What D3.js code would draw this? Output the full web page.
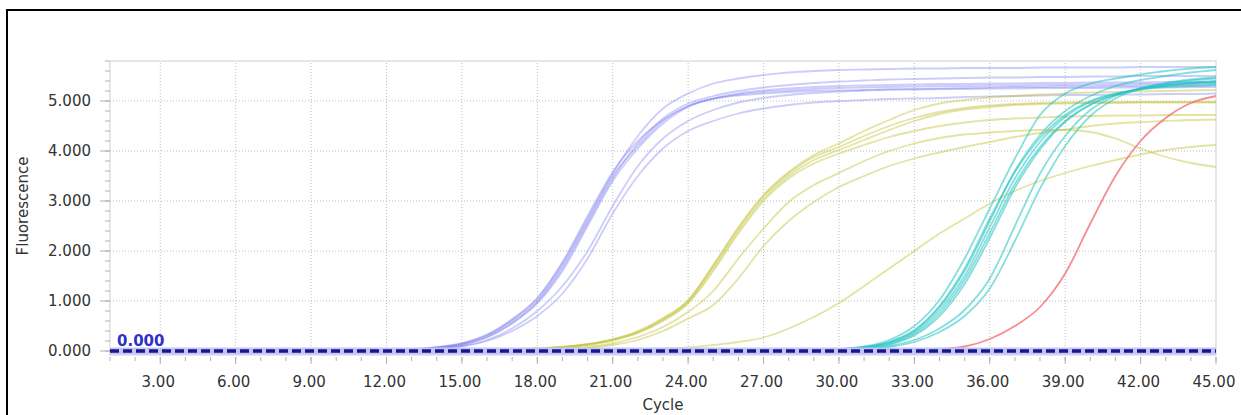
<!DOCTYPE html>
<html>
<head>
<meta charset="utf-8">
<script src="https://cdn.jsdelivr.net/npm/d3@7"></script>
<style>
  body { margin: 0; background: #fff; }
  svg { display: block; }
  .tick-label { font-family: "DejaVu Sans", sans-serif; font-size: 15px; fill: #333; }
</style>
</head>
<body>
<div class="chart-container"></div>
<script>
var w = 1241;
var h = 415;

// cycle numbers on the x axis
var cycles = [1,2,3,4,5,6,7,8,9,10,11,12,13,14,15,16,17,18,19,20,21,22,23,24,25,26,27,28,29,30,31,32,33,34,35,36,37,38,39,40,41,42,43,44,45];
var xTicks = [3,6,9,12,15,18,21,24,27,30,33,36,39,42,45];
var yTicks = [0,1,2,3,4,5];
var threshold = 0;

// fluorescence (x1000) per cycle
var blueCurves = [
  [0,0,0,0,0,0,0,0,0,0,0, 0.01,0.03,0.07,0.15,0.32,0.62,1.05,1.75,2.65,3.55,4.3,4.85,5.15, 5.35,5.45,5.52,5.57,5.6,5.62,5.63,5.64,5.65,5.65,5.66,5.66,5.66,5.67,5.67,5.67,5.67,5.68,5.68,5.68,5.68],
  [0,0,0,0,0,0,0,0,0,0,0, 0.01,0.03,0.06,0.13,0.28,0.56,0.98,1.65,2.55,3.45,4.15,4.65,4.95, 5.1,5.2,5.27,5.32,5.36,5.39,5.41,5.43,5.44,5.45,5.46,5.47,5.47,5.48,5.48,5.49,5.49,5.5,5.5,5.5,5.5],
  [0,0,0,0,0,0,0,0,0,0,0, 0.01,0.03,0.07,0.14,0.3,0.6,1.0,1.7,2.6,3.5,4.1,4.6,4.9, 5.05,5.13,5.18,5.21,5.24,5.26,5.27,5.28,5.29,5.3,5.3,5.31,5.31,5.32,5.32,5.33,5.33,5.34,5.34,5.35,5.35],
  [0,0,0,0,0,0,0,0,0,0,0, 0.01,0.02,0.06,0.12,0.27,0.55,0.95,1.6,2.5,3.4,4.05,4.55,4.88, 5.05,5.15,5.21,5.25,5.28,5.3,5.31,5.32,5.33,5.34,5.34,5.35,5.35,5.36,5.36,5.37,5.37,5.37,5.38,5.38,5.38],
  [0,0,0,0,0,0,0,0,0,0,0, 0.01,0.03,0.08,0.16,0.33,0.64,1.06,1.78,2.7,3.58,4.2,4.62,4.9, 5.04,5.11,5.15,5.18,5.2,5.21,5.22,5.23,5.23,5.24,5.24,5.25,5.25,5.26,5.26,5.26,5.27,5.27,5.27,5.28,5.28],
  [0,0,0,0,0,0,0,0,0,0,0, 0.01,0.02,0.05,0.1,0.22,0.45,0.8,1.3,2.0,2.9,3.7,4.25,4.6, 4.82,4.97,5.06,5.12,5.16,5.19,5.21,5.23,5.24,5.25,5.26,5.27,5.28,5.28,5.29,5.29,5.3,5.3,5.31,5.31,5.32],
  [0,0,0,0,0,0,0,0,0,0,0, 0.01,0.02,0.04,0.09,0.2,0.4,0.7,1.15,1.85,2.75,3.5,4.05,4.4, 4.6,4.75,4.85,4.92,4.97,5.0,5.02,5.04,5.05,5.06,5.08,5.09,5.1,5.11,5.12,5.12,5.13,5.13,5.14,5.14,5.15]
];

var yellowCurves = [
  [0,0,0,0,0,0,0,0,0,0,0,0,0, 0.01,0.01,0.02,0.03,0.05,0.08,0.14,0.24,0.4,0.66,1.02, 1.72,2.48,3.12,3.58,3.92,4.15,4.4,4.62,4.82,4.95,5.02,5.07,5.1,5.13,5.15,5.17,5.18,5.19,5.2,5.21,5.22],
  [0,0,0,0,0,0,0,0,0,0,0,0,0, 0.01,0.01,0.02,0.03,0.05,0.08,0.13,0.23,0.38,0.64,1.0, 1.7,2.45,3.1,3.55,3.88,4.08,4.3,4.5,4.66,4.78,4.86,4.91,4.94,4.96,4.97,4.97,4.98,4.98,4.98,4.98,4.98],
  [0,0,0,0,0,0,0,0,0,0,0,0,0, 0.01,0.01,0.02,0.03,0.05,0.08,0.13,0.22,0.37,0.62,0.98, 1.65,2.4,3.05,3.5,3.82,4.02,4.22,4.42,4.6,4.74,4.83,4.88,4.92,4.94,4.95,4.96,4.96,4.97,4.97,4.97,4.97],
  [0,0,0,0,0,0,0,0,0,0,0,0,0, 0.01,0.01,0.02,0.03,0.04,0.07,0.12,0.21,0.36,0.6,0.95, 1.6,2.35,3.0,3.45,3.75,3.95,4.12,4.28,4.4,4.5,4.57,4.62,4.65,4.67,4.69,4.7,4.71,4.71,4.72,4.72,4.72],
  [0,0,0,0,0,0,0,0,0,0,0,0,0, 0,0,0.01,0.01,0.02,0.04,0.08,0.15,0.28,0.48,0.78, 1.2,1.85,2.45,2.98,3.32,3.56,3.8,4.0,4.15,4.26,4.33,4.37,4.4,4.42,4.42,4.38,4.25,4.05,3.88,3.76,3.68],
  [0,0,0,0,0,0,0,0,0,0,0,0,0, 0,0,0.01,0.01,0.02,0.03,0.06,0.12,0.22,0.4,0.65, 0.92,1.45,2.1,2.6,2.98,3.28,3.5,3.7,3.85,3.97,4.08,4.18,4.28,4.36,4.43,4.5,4.55,4.58,4.6,4.62,4.63],
  [0,0,0,0,0,0,0,0,0,0,0,0,0, 0,0,0,0,0,0,0.01,0.02,0.03,0.05,0.07, 0.12,0.18,0.27,0.45,0.68,0.96,1.3,1.65,2.0,2.35,2.65,2.95,3.2,3.4,3.56,3.7,3.82,3.93,4.02,4.08,4.12]
];

var cyanCurves = [
  [0,0,0,0,0,0,0,0,0,0,0,0,0,0,0,0,0,0,0,0,0,0,0,0,0,0,0, 0.01,0.02,0.04,0.09,0.22,0.5,1.02,1.85,2.85,3.85,4.72,5.15,5.35,5.45,5.53,5.6,5.65,5.68],
  [0,0,0,0,0,0,0,0,0,0,0,0,0,0,0,0,0,0,0,0,0,0,0,0,0,0,0, 0.01,0.01,0.03,0.08,0.18,0.4,0.88,1.6,2.6,3.6,4.32,4.8,5.1,5.3,5.42,5.5,5.57,5.62],
  [0,0,0,0,0,0,0,0,0,0,0,0,0,0,0,0,0,0,0,0,0,0,0,0,0,0,0, 0,0.01,0.03,0.07,0.16,0.37,0.82,1.5,2.48,3.45,4.18,4.68,4.98,5.14,5.24,5.3,5.34,5.36],
  [0,0,0,0,0,0,0,0,0,0,0,0,0,0,0,0,0,0,0,0,0,0,0,0,0,0,0, 0,0.01,0.03,0.06,0.14,0.34,0.76,1.42,2.36,3.34,4.08,4.6,4.93,5.12,5.24,5.31,5.36,5.39],
  [0,0,0,0,0,0,0,0,0,0,0,0,0,0,0,0,0,0,0,0,0,0,0,0,0,0,0, 0,0.01,0.02,0.05,0.13,0.31,0.7,1.34,2.26,3.26,4.03,4.58,4.92,5.12,5.24,5.32,5.37,5.4],
  [0,0,0,0,0,0,0,0,0,0,0,0,0,0,0,0,0,0,0,0,0,0,0,0,0,0,0, 0,0.01,0.03,0.07,0.18,0.42,0.9,1.65,2.65,3.58,4.26,4.72,5.0,5.15,5.23,5.28,5.3,5.32],
  [0,0,0,0,0,0,0,0,0,0,0,0,0,0,0,0,0,0,0,0,0,0,0,0,0,0,0, 0,0,0.01,0.04,0.1,0.22,0.45,0.82,1.45,2.5,3.55,4.3,4.82,5.1,5.26,5.35,5.41,5.45],
  [0,0,0,0,0,0,0,0,0,0,0,0,0,0,0,0,0,0,0,0,0,0,0,0,0,0,0, 0,0,0.01,0.03,0.08,0.18,0.38,0.7,1.25,2.2,3.25,4.1,4.7,5.05,5.25,5.36,5.43,5.47]
];

var redCurves = [
  [0,0,0,0,0,0,0,0,0,0,0,0,0,0,0,0,0,0,0,0,0,0,0,0,0,0,0,0,0,0,0, 0.01,0.02,0.04,0.09,0.24,0.5,0.88,1.55,2.55,3.5,4.2,4.66,4.96,5.1]
];

var margin = { left: 110, right: 25, top: 61, bottom: 60 };

var x = d3.scaleLinear().domain([1, 45]).range([margin.left, w - margin.right]);
var y = d3.scaleLinear().domain([-0.08, 5.8]).range([h - margin.bottom, margin.top]);

var svg = d3.select(".chart-container")
    .append("svg")
    .attr("width", w)
    .attr("height", h);

// outer frame
svg.append("rect")
    .attr("x", 7).attr("y", 10)
    .attr("width", w).attr("height", h)
    .attr("fill", "none")
    .attr("stroke", "#000")
    .attr("stroke-width", 2);

var x0 = x.range()[0], x1 = x.range()[1];
var y0 = y.range()[0], y1 = y.range()[1];

// dotted grid
svg.append("g").selectAll("line")
    .data(yTicks.filter(function (d) { return d > 0; }))
    .enter().append("line")
    .attr("x1", x0).attr("x2", x1)
    .attr("y1", function (d) { return y(d); })
    .attr("y2", function (d) { return y(d); })
    .attr("stroke", "#bdbdbd")
    .attr("stroke-dasharray", "1,2");

svg.append("g").selectAll("line")
    .data(xTicks.filter(function (d) { return d < 45; }))
    .enter().append("line")
    .attr("y1", y0).attr("y2", y1)
    .attr("x1", function (d) { return x(d); })
    .attr("x2", function (d) { return x(d); })
    .attr("stroke", "#bdbdbd")
    .attr("stroke-dasharray", "1,2");

// plot frame
svg.append("rect")
    .attr("x", x0).attr("y", y1)
    .attr("width", x1 - x0).attr("height", y0 - y1)
    .attr("fill", "none")
    .attr("stroke", "#cfcfcf");

// y axis ticks
var yMinor = d3.range(0, 5.81, 0.2);
svg.append("g").selectAll("line")
    .data(yMinor)
    .enter().append("line")
    .attr("x1", x0 - 5).attr("x2", x0)
    .attr("y1", function (d) { return y(d); })
    .attr("y2", function (d) { return y(d); })
    .attr("stroke", "#b0b0b0");

svg.append("g").selectAll("line")
    .data(yTicks)
    .enter().append("line")
    .attr("x1", x0 - 10).attr("x2", x0)
    .attr("y1", function (d) { return y(d); })
    .attr("y2", function (d) { return y(d); })
    .attr("stroke", "#b0b0b0");

svg.append("g").selectAll("text")
    .data(yTicks)
    .enter().append("text")
    .attr("class", "tick-label")
    .attr("x", x0 - 19)
    .attr("y", function (d) { return y(d); })
    .attr("dy", "0.36em")
    .attr("text-anchor", "end")
    .text(d3.format(".3f"));

// x axis ticks
svg.append("g").selectAll("line")
    .data(cycles)
    .enter().append("line")
    .attr("x1", function (d) { return x(d); })
    .attr("x2", function (d) { return x(d); })
    .attr("y1", y0 + 2).attr("y2", y0 + 6)
    .attr("stroke", "#b0b0b0");

svg.append("g").selectAll("line")
    .data(xTicks)
    .enter().append("line")
    .attr("x1", function (d) { return x(d); })
    .attr("x2", function (d) { return x(d); })
    .attr("y1", y0 + 2).attr("y2", y0 + 9)
    .attr("stroke", "#b0b0b0");

svg.append("g").selectAll("text")
    .data(xTicks)
    .enter().append("text")
    .attr("class", "tick-label")
    .attr("x", function (d) { return x(d) - 2; })
    .attr("y", y0 + 32)
    .attr("text-anchor", "middle")
    .text(d3.format(".2f"));

// axis titles
svg.append("text")
    .attr("class", "tick-label")
    .attr("x", (x0 + x1) / 2)
    .attr("y", 410)
    .attr("text-anchor", "middle")
    .text("Cycle");

svg.append("text")
    .attr("class", "tick-label")
    .attr("transform", "translate(28," + y(2.9) + ") rotate(-90)")
    .attr("text-anchor", "middle")
    .text("Fluorescence");

// amplification curves
svg.append("clipPath").attr("id", "plot-clip")
    .append("rect")
    .attr("x", x0).attr("y", y1)
    .attr("width", x1 - x0).attr("height", y0 - y1);

var line = d3.line()
    .x(function (d, i) { return x(cycles[i]); })
    .y(function (d) { return y(d); })
    .curve(d3.curveMonotoneX);

var curves = svg.append("g").attr("clip-path", "url(#plot-clip)");

function drawGroup(data, color, opacity) {
    curves.append("g").selectAll("path")
        .data(data)
        .enter().append("path")
        .attr("d", line)
        .attr("fill", "none")
        .attr("stroke", color)
        .attr("stroke-width", 1.8)
        .attr("stroke-opacity", opacity);
}

drawGroup(blueCurves, "#7c7cf0", 0.38);
drawGroup(yellowCurves, "#c2c236", 0.45);
drawGroup(cyanCurves, "#22c2c2", 0.55);
drawGroup(redCurves, "#f27a7a", 0.85);

// threshold line
svg.append("line")
    .attr("x1", x0).attr("x2", x1)
    .attr("y1", y(threshold)).attr("y2", y(threshold))
    .attr("stroke", "#c4c4f4")
    .attr("stroke-width", 7);

svg.append("line")
    .attr("x1", x0).attr("x2", x1)
    .attr("y1", y(threshold)).attr("y2", y(threshold))
    .attr("stroke", "#16168e")
    .attr("stroke-width", 3.5)
    .attr("stroke-dasharray", "9,4");

svg.append("text")
    .attr("x", x0 + 7)
    .attr("y", y(threshold) - 5)
    .attr("font-family", "DejaVu Sans, sans-serif")
    .attr("font-size", 15)
    .attr("font-weight", "bold")
    .attr("fill", "#3030c4")
    .text(d3.format(".3f")(threshold));
</script>
</body>
</html>
